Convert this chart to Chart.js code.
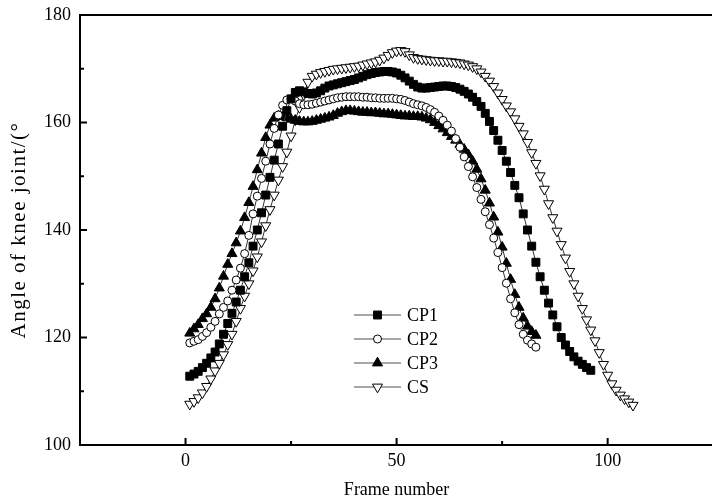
<!DOCTYPE html>
<html>
<head>
<meta charset="utf-8">
<script src="https://cdn.jsdelivr.net/npm/chart.js@4.4.1/dist/chart.umd.min.js"></script>
<style>
  html, body { margin: 0; padding: 0; background: #fff; overflow: hidden; }
  #wrap { width: 720px; height: 504px; }
</style>
</head>
<body>
<div id="wrap"><canvas id="kneeChart" width="720" height="504"></canvas></div>
<script>
// knee angle per frame (first value = frame 1)
const cp1 = [
  112.8, 113.2, 113.7, 114.4, 115.2, 116.2, 117.3, 118.8, 120.6, 122.6,
  124.5, 126.6, 128.8, 131.3, 133.9, 137.0, 140.0, 143.2, 146.5, 149.8,
  153.0, 156.0, 159.3, 162.2, 164.4, 165.6, 165.9, 165.7, 165.4, 165.3,
  165.5, 165.9, 166.4, 166.8, 167.0, 167.2, 167.4, 167.6, 167.8, 168.0,
  168.3, 168.6, 168.9, 169.1, 169.3, 169.4, 169.5, 169.5, 169.4, 169.2,
  168.8, 168.3, 167.7, 167.1, 166.6, 166.4, 166.4, 166.5, 166.6, 166.7,
  166.8, 166.8, 166.7, 166.5, 166.2, 165.8, 165.3, 164.7, 163.9, 163.0,
  161.7, 160.2, 158.5, 156.7, 154.8, 152.8, 150.7, 148.3, 146.0, 143.0,
  140.0, 137.0, 134.0, 131.3, 128.8, 126.4, 124.2, 122.0, 120.0, 118.6,
  117.4, 116.4, 115.6, 115.0, 114.4, 113.9
];
const cp2 = [
  119.0, 119.3, 119.6, 120.2, 120.9, 121.9, 123.0, 124.4, 125.6, 126.8,
  128.8, 130.7, 132.9, 135.6, 139.0, 143.0, 146.3, 149.6, 152.8, 156.0,
  158.9, 161.4, 163.2, 164.2, 164.4, 164.0, 163.5, 163.3, 163.3, 163.4,
  163.6, 163.8, 164.0, 164.2, 164.4, 164.6, 164.7, 164.8, 164.8, 164.8,
  164.8, 164.7, 164.7, 164.6, 164.6, 164.5, 164.5, 164.5, 164.5, 164.4,
  164.3, 164.1, 163.8, 163.5, 163.3, 163.1, 162.8, 162.4, 161.9, 161.2,
  160.4, 159.5, 158.4, 157.0, 155.4, 153.6, 151.8, 149.9, 147.9, 145.7,
  143.4, 141.0, 138.5, 135.8, 133.0, 130.1, 127.2, 124.6, 122.4, 120.6,
  119.5, 118.8, 118.2
];
const cp3 = [
  120.8, 121.6, 122.4, 123.5, 124.4, 125.6, 127.2, 129.2, 131.4, 133.6,
  135.6, 137.6, 139.8, 142.3, 145.1, 148.1, 151.2, 154.3, 157.2, 159.5,
  160.8, 161.2, 161.1, 160.9, 160.6, 160.4, 160.2, 160.1, 160.1, 160.2,
  160.4, 160.6, 160.8, 161.0, 161.3, 161.7, 162.0, 162.2, 162.2, 162.1,
  162.0, 161.9, 161.9, 161.8, 161.8, 161.7, 161.6, 161.6, 161.5, 161.4,
  161.3, 161.2, 161.2, 161.1, 161.1, 161.0, 160.8, 160.5, 160.0, 159.4,
  158.8, 158.1, 157.4, 156.7, 155.9, 155.0, 154.0, 152.8, 151.3, 149.5,
  147.4, 145.0, 142.4, 139.6, 136.8, 133.8, 130.8, 128.0, 125.6, 123.6,
  122.1, 121.1, 120.4
];
const cs = [
  107.6, 108.1, 108.8, 109.7, 110.9, 112.3, 113.8, 115.2, 116.8, 118.7,
  120.6, 123.0, 125.4, 127.7, 130.0, 132.4, 135.0, 137.8, 140.8, 143.8,
  146.5, 149.3, 151.8, 154.5, 157.5, 160.5, 162.8, 165.2, 167.5, 168.6,
  169.0, 169.3, 169.5, 169.7, 169.9, 170.0, 170.1, 170.2, 170.3, 170.4,
  170.5, 170.7, 170.9, 171.1, 171.3, 171.6, 172.0, 172.5, 173.0, 173.3,
  173.4, 173.2, 172.6, 172.1, 171.9, 171.8, 171.7, 171.6, 171.5, 171.5,
  171.4, 171.4, 171.3, 171.2, 171.1, 170.9, 170.7, 170.4, 170.0, 169.4,
  168.6, 167.7, 166.7, 165.5, 164.3, 163.1, 162.0, 160.7, 159.3, 157.9,
  156.3, 154.4, 152.4, 150.1, 147.6, 144.9, 142.3, 139.8, 137.3, 134.8,
  132.3, 130.0, 127.7, 125.4, 123.3, 121.4, 119.4, 117.2, 115.0, 113.0,
  111.4, 110.2, 109.3, 108.6, 108.0, 107.4
];

const seriesNames = ["CP1", "CP2", "CP3", "CS"];
const xTicks = [0, 50, 100];
const xMinorTicks = [25, 75];
const yTicks = [100, 120, 140, 160, 180];
const yMinorTicks = [110, 130, 150, 170];
const yTitle = "Angle of knee joint/(°";

const FONT = "'Liberation Serif', 'Times New Roman', serif";

// marker look for each series
const markers = [
  { pointStyle: "rect", radius: 5.6, rotation: 0, fill: "#000" },
  { pointStyle: "circle", radius: 4, rotation: 0, fill: "#fff" },
  { pointStyle: "triangle", radius: 5.8, rotation: 0, fill: "#000" },
  { pointStyle: "triangle", radius: 5.8, rotation: 180, fill: "#fff" }
];

const toPoints = (arr) => arr.map((v, i) => ({ x: i + 1, y: v }));

const datasets = [cp1, cp2, cp3, cs].map((arr, i) => ({
  label: seriesNames[i],
  data: toPoints(arr),
  borderColor: "#333",
  borderWidth: 1,
  pointStyle: markers[i].pointStyle,
  pointRadius: markers[i].radius,
  pointRotation: markers[i].rotation,
  pointBackgroundColor: markers[i].fill,
  pointBorderColor: "#000",
  pointBorderWidth: 1,
  tension: 0
}));

// frame with inward ticks, y title, legend (line sample with marker)
const frameAndLegend = {
  id: "frameAndLegend",
  afterDraw(chart) {
    const { ctx, chartArea: a, scales: { x, y } } = chart;
    ctx.save();
    ctx.strokeStyle = "#000";
    ctx.lineWidth = 2;
    ctx.strokeRect(a.left, a.top, a.right - a.left, a.bottom - a.top);

    ctx.beginPath();
    xTicks.forEach(v => { const p = x.getPixelForValue(v); ctx.moveTo(p, a.bottom); ctx.lineTo(p, a.bottom - 7); });
    xMinorTicks.forEach(v => { const p = x.getPixelForValue(v); ctx.moveTo(p, a.bottom); ctx.lineTo(p, a.bottom - 4); });
    yTicks.forEach(v => { const p = y.getPixelForValue(v); ctx.moveTo(a.left, p); ctx.lineTo(a.left + 7, p); });
    yMinorTicks.forEach(v => { const p = y.getPixelForValue(v); ctx.moveTo(a.left, p); ctx.lineTo(a.left + 4, p); });
    ctx.stroke();

    // y axis title
    ctx.save();
    ctx.translate(19, (a.top + a.bottom) / 2);
    ctx.rotate(-Math.PI / 2);
    ctx.font = "21px " + FONT;
    ctx.letterSpacing = "1.5px";
    ctx.textAlign = "center";
    ctx.textBaseline = "middle";
    ctx.fillStyle = "#000";
    ctx.fillText(yTitle, 0, 0);
    ctx.restore();

    // legend
    const lx0 = 354, lx1 = 401, ly0 = 315, step = 24;
    ctx.font = "18px " + FONT;
    ctx.textBaseline = "middle";
    ctx.textAlign = "left";
    seriesNames.forEach((name, i) => {
      const yy = ly0 + i * step;
      ctx.strokeStyle = "#888";
      ctx.lineWidth = 1.5;
      ctx.beginPath();
      ctx.moveTo(lx0, yy);
      ctx.lineTo(lx1, yy);
      ctx.stroke();
      ctx.fillStyle = markers[i].fill;
      ctx.strokeStyle = "#000";
      ctx.lineWidth = 1;
      Chart.helpers.drawPoint(ctx, {
        pointStyle: markers[i].pointStyle,
        radius: markers[i].radius,
        rotation: markers[i].rotation,
        borderWidth: 1
      }, (lx0 + lx1) / 2, yy);
      ctx.fillStyle = "#000";
      ctx.fillText(name, 407, yy + 1);
    });
    ctx.restore();
  }
};

new Chart(document.getElementById("kneeChart"), {
  type: "line",
  data: { datasets },
  options: {
    responsive: false,
    animation: false,
    devicePixelRatio: 1,
    layout: { padding: { left: 0, top: 15, right: 1, bottom: 0 } },
    plugins: { legend: { display: false }, tooltip: { enabled: false } },
    scales: {
      x: {
        type: "linear",
        min: -25,
        max: 125,
        afterBuildTicks: (s) => { s.ticks = xTicks.map(v => ({ value: v })); },
        afterFit: (s) => { s.height = 59; s.paddingLeft = 0; s.paddingRight = 0; },
        grid: { display: false, drawTicks: false },
        border: { display: false },
        ticks: { color: "#000", padding: 5, font: { family: FONT, size: 18 } },
        title: {
          display: true,
          text: "Frame number",
          color: "#000",
          font: { family: FONT, size: 18 },
          padding: { top: 0, bottom: 3 }
        }
      },
      y: {
        min: 100,
        max: 180,
        afterBuildTicks: (s) => { s.ticks = yTicks.map(v => ({ value: v })); },
        afterFit: (s) => { s.width = 80; s.paddingTop = 0; s.paddingBottom = 0; },
        grid: { display: false, drawTicks: false },
        border: { display: false },
        ticks: { color: "#000", padding: 9, font: { family: FONT, size: 18 } }
      }
    }
  },
  plugins: [frameAndLegend]
});
</script>
</body>
</html>
